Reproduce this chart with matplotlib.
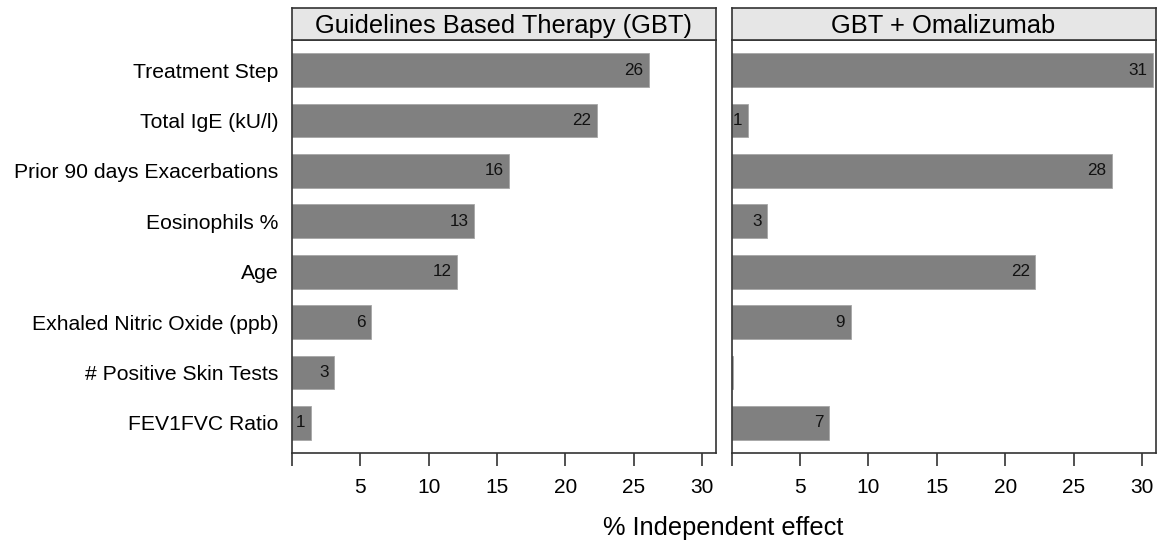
import matplotlib.pyplot as plt
import numpy as np

plt.rcParams['font.family'] = ['Liberation Sans', 'DejaVu Sans']

## predictors, top to bottom
predictors = ['Treatment Step', 'Total IgE (kU/l)', 'Prior 90 days Exacerbations',
              'Eosinophils %', 'Age', 'Exhaled Nitric Oxide (ppb)',
              '# Positive Skin Tests', 'FEV1FVC Ratio']
panel_titles = ['Guidelines Based Therapy (GBT)', 'GBT + Omalizumab']
# % independent effect of each predictor
gbt_effect = [26.1, 22.3, 15.9, 13.3, 12.1, 5.8, 3.1, 1.4]
omal_effect = [30.8, 1.2, 27.8, 2.6, 22.2, 8.7, 0.1, 7.1]
x_ticks = [0, 5, 10, 15, 20, 25, 30]

W, H = 1169, 547
fig = plt.figure(figsize=(W/100, H/100), dpi=100)

def px_axes(x0, y0, x1, y1):
    # axes placed from pixel box (top-left origin)
    return fig.add_axes([x0/W, 1 - y1/H, (x1 - x0)/W, (y1 - y0)/H])

edge = '#333333'
panels = [(291.7, 716.0), (731.5, 1155.7)]
y = np.arange(len(predictors))

for i, (vals, title) in enumerate(zip([gbt_effect, omal_effect], panel_titles)):
    x0, x1 = panels[i]
    ax = px_axes(x0, 40, x1, 453)
    ax.barh(y, vals, height=0.67, color='#808080', edgecolor='#a6a6a6', linewidth=0.6)
    for yy, v in zip(y, vals):
        if v >= 0.5:
            ax.text(v - 0.4, yy, '%d' % round(v), ha='right', va='center', fontsize=12.3, color='#111111')
    ax.set_xlim(0, 31)
    ax.set_ylim(len(predictors) - 0.4, -0.6)
    ax.set_xticks(x_ticks)
    ax.set_xticklabels([''] + [str(t) for t in x_ticks[1:]])
    ax.tick_params(axis='x', direction='out', length=9, width=1.2, color=edge, pad=9, labelsize=15)
    ax.tick_params(axis='y', left=False, length=0, pad=9.5, labelsize=15.2)
    if i == 0:
        ax.set_yticks(y)
        ax.set_yticklabels(predictors)
    else:
        ax.set_yticks([])
    for s in ax.spines.values():
        s.set_color(edge)
        s.set_linewidth(1.2)

    # strip header
    st = px_axes(x0, 8, x1, 40)
    st.set_facecolor('#e6e6e6')
    st.set_xticks([])
    st.set_yticks([])
    for s in st.spines.values():
        s.set_color(edge)
        s.set_linewidth(1.2)
    st.text(0.5, 0.45, title, ha='center', va='center', fontsize=18.4, transform=st.transAxes)

fig.text((291.7 + 1155.7)/2/W, 1 - 528/H, '% Independent effect', ha='center', va='center', fontsize=18.3)

plt.savefig('out.png', dpi=100)
